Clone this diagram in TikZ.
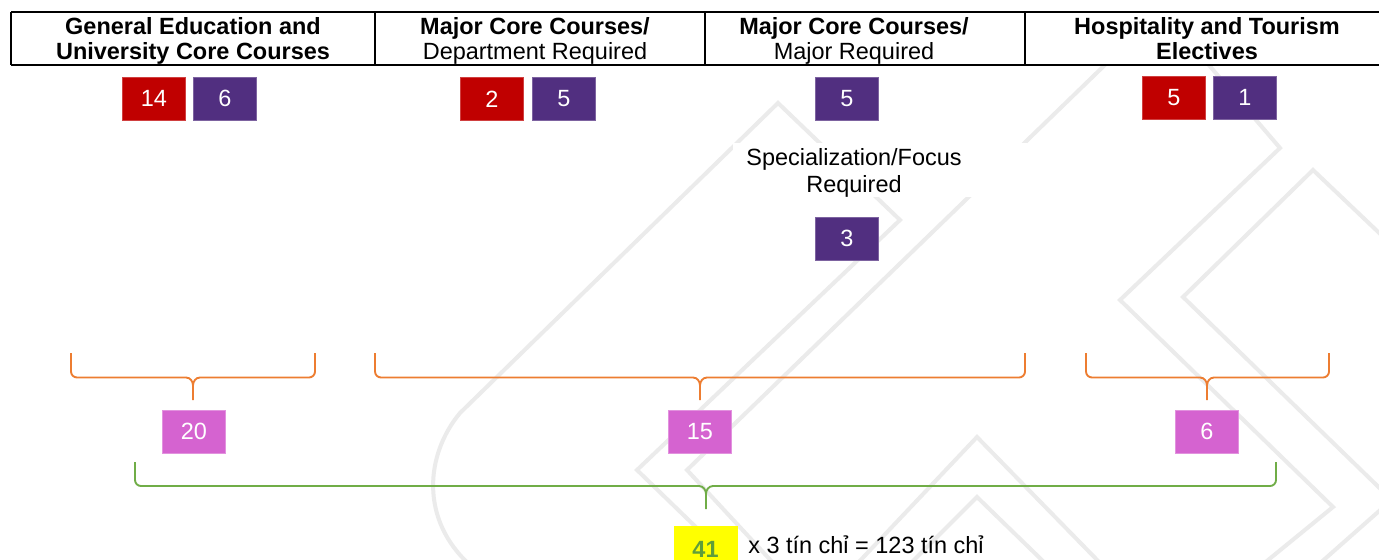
\documentclass[tikz,border=0pt]{standalone}
\usepackage{fontspec}
\setmainfont{Liberation Sans}
\definecolor{cred}{HTML}{C00000}
\definecolor{cpur}{HTML}{512F80}
\definecolor{cpink}{HTML}{D563D0}
\definecolor{corange}{HTML}{ED7D31}
\definecolor{cgreen}{HTML}{70AD47}
\definecolor{cgtext}{HTML}{5F9E3A}
\definecolor{cyel}{HTML}{FFFF00}
\definecolor{wm}{HTML}{EBEBEB}
\newcommand\mybrace[7]{%
  \draw[#1] (#2,#5) -- (#2,#6-6) to[out=-90,in=180] (#2+6,#6) -- (#4-7,#6) to[out=0,in=90] (#4,#6+8) -- (#4,#7);
  \draw[#1] (#3,#5) -- (#3,#6-6) to[out=-90,in=0] (#3-6,#6) -- (#4+7,#6) to[out=180,in=90] (#4,#6+8);
}
\begin{document}
\begin{tikzpicture}[x=0.75pt,y=-0.75pt,
  base/.style={font=\fontsize{17.6}{20}\selectfont},
  hdrb/.style={base,anchor=base,font=\fontsize{17.6}{20}\selectfont\bfseries},
  hdrr/.style={base,anchor=base},
  numbox/.style={base,anchor=north west,minimum width=47.25pt,minimum height=32.25pt,inner sep=0pt,text=white,line width=0.6pt},
  redbox/.style={numbox,fill=cred,draw=cred!75!white},
  purbox/.style={numbox,fill=cpur,draw=cpur!75!white},
  pinkbox/.style={numbox,fill=cpink,draw=cpink!70!white},
  obrace/.style={draw=corange,line width=1.4pt},
  gbrace/.style={draw=cgreen,line width=1.4pt},
  wmline/.style={draw=wm,line width=3pt},
  tline/.style={draw=black,line width=1.5pt}
]
\useasboundingbox (0,0) rectangle (1379,560);
\clip (0,0) rectangle (1379,560);
\fill[white] (0,0) rectangle (1379,560);

% watermark
\draw[wmline] (470,565) .. controls (420,520) and (425,455) .. (460,413) -- (778,103) -- (900,220) -- (637,470) -- (735,565);
\draw[wmline] (775,565) -- (687,470) -- (1110,60);
\draw[wmline] (856,565) -- (977,437) -- (1102,565);
\draw[wmline] (909,565) -- (977,497) -- (1047,565);
\draw[wmline] (1196,50) -- (1280,148) -- (1120,300) -- (1333,507) -- (1262,565);
\draw[wmline] (1395,248) -- (1313,170) -- (1183,297) -- (1395,503);
\draw[wmline] (1395,497) -- (1318,565);

% header table
\fill[white] (11,12) rectangle (1379,65);
\draw[tline] (11,12) -- (1380,12);
\draw[tline] (11,65) -- (1380,65);
\draw[tline] (11,12) -- (11,65);
\draw[tline] (375,12) -- (375,65);
\draw[tline] (705,12) -- (705,65);
\draw[tline] (1025,12) -- (1025,65);

\node[hdrb] (h1a) at (193,35) {General Education and};
\node[hdrb] (h1b) at (193,60) {University Core Courses};
\node[hdrb] (h2a) at (535,35) {Major Core Courses/};
\node[hdrr] (h2b) at (535,60) {Department Required};
\node[hdrb] (h3a) at (854,35) {Major Core Courses/};
\node[hdrr] (h3b) at (854,60) {Major Required};
\node[hdrb] (h4a) at (1207,35) {Hospitality and Tourism};
\node[hdrb] (h4b) at (1207,60) {Electives};

% first row boxes
\node[redbox] (ge14) at (122,77) {14};
\node[purbox] (ge6) at (193,77) {6};
\node[redbox] (dr2) at (460,77) {2};
\node[purbox] (dr5) at (532,77) {5};
\node[purbox] (mr5) at (815,77) {5};
\node[redbox] (he5) at (1142,76) {5};
\node[purbox] (he1) at (1213,76) {1};

% specialization
\fill[white] (733,143) rectangle (1027,197);
\node[hdrr] (spa) at (854,166) {Specialization/Focus};
\node[hdrr] (spb) at (854,192) {Required};
\node[purbox] (sp3) at (815,217) {3};

% orange braces
\mybrace{obrace}{71}{315}{193}{353}{377.5}{400}
\mybrace{obrace}{375}{1025}{700}{353}{377.5}{400}
\mybrace{obrace}{1086}{1329}{1207}{353}{377.5}{400}

% subtotals
\node[pinkbox] (t20) at (162,410) {20};
\node[pinkbox] (t15) at (668,410) {15};
\node[pinkbox] (t6) at (1175,410) {6};

% green brace
\mybrace{gbrace}{135}{1276}{706}{462}{486}{509}

% total
\node[fill=cyel,anchor=north west,minimum width=47.5pt,minimum height=36pt,inner sep=0pt] (tot) at (674,526) {};
\node[base,anchor=base,text=cgtext,font=\fontsize{17.6}{20}\selectfont\bfseries] (n41) at (705.5,557) {41};
\node[hdrr,anchor=base west,inner sep=0pt] (eq) at (748,553) {x 3 tín chỉ = 123 tín chỉ};
\end{tikzpicture}
\end{document}
